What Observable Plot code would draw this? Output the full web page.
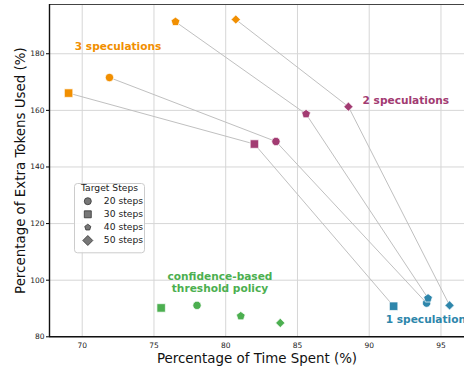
<!DOCTYPE html>
<html><head><meta charset="utf-8">
<script src="https://cdn.jsdelivr.net/npm/d3@7"></script>
<script src="https://cdn.jsdelivr.net/npm/@observablehq/plot@0.6"></script>
<style>body{margin:0;background:#fff;} svg{font-family:"DejaVu Sans",sans-serif;}</style>
</head><body><div id="chart"></div>
<script>
// ---- data ----
const steps = [20, 30, 40, 50];
const stepLabels = ["20 steps", "30 steps", "40 steps", "50 steps"];
const seriesNames = ["3 speculations", "2 speculations", "1 speculation", "confidence-based\nthreshold policy"];
const seriesColors = ["#F18F01", "#A23B72", "#2E86AB", "#4CAF50"];
const spec3Time = [71.9, 69.05, 76.5, 80.7];
const spec3Tokens = [171.6, 166.1, 191.3, 192.1];
const spec2Time = [83.5, 82.0, 85.6, 88.55];
const spec2Tokens = [149.0, 148.1, 158.7, 161.3];
const spec1Time = [94.0, 91.7, 94.1, 95.6];
const spec1Tokens = [91.9, 90.8, 93.6, 91.1];
const confTime = [78.0, 75.5, 81.05, 83.8];
const confTokens = [91.1, 90.2, 87.3, 84.9];
// annotation anchors (data space)
const labelTime = [72.5, 92.55, 91.15, 79.6];
const labelTokens = [182.6, 163.4, 86.0, 99.2];
const xTicks = [70, 75, 80, 85, 90, 95];
const yTicks = [80, 100, 120, 140, 160, 180];
const xDomain = [67.72, 96.64];
const yDomain = [80, 197.4];
const xLabel = "Percentage of Time Spent (%)";
const yLabel = "Percentage of Extra Tokens Used (%)";
const legendTitle = "Target Steps";

// ---- build rows ----
const seriesTime = [spec3Time, spec2Time, spec1Time, confTime];
const seriesTokens = [spec3Tokens, spec2Tokens, spec1Tokens, confTokens];
const seriesLinked = [true, true, true, false];
const points = seriesNames.flatMap((name, si) => steps.map((st, i) => ({
  series: name, color: seriesColors[si], step: st, stepIndex: i,
  time: seriesTime[si][i], tokens: seriesTokens[si][i], linked: seriesLinked[si]
})));
const labels = seriesNames.map((name, si) => ({text: name, color: seriesColors[si], time: labelTime[si], tokens: labelTokens[si], si}));

// ---- symbols ----
function makeSymbol(kind) {
  return {draw(ctx, size) {
    const r = Math.sqrt(size / Math.PI);
    if (kind === "circle") { const c = r * 0.9; ctx.moveTo(c, 0); ctx.arc(0, 0, c, 0, 2 * Math.PI); }
    else if (kind === "square") { const s = r * 0.92; ctx.rect(-s, -s, 2 * s, 2 * s); }
    else if (kind === "pentagon") {
      const R = r * 1.0;
      for (let k = 0; k < 5; k++) {
        const a = -Math.PI / 2 + k * 2 * Math.PI / 5;
        const px = R * Math.cos(a), py = R * Math.sin(a);
        if (k === 0) ctx.moveTo(px, py); else ctx.lineTo(px, py);
      }
      ctx.closePath();
    } else {
      const h = r * 1.0;
      ctx.moveTo(0, -h); ctx.lineTo(h, 0); ctx.lineTo(0, h); ctx.lineTo(-h, 0); ctx.closePath();
    }
  }};
}
const symbols = ["circle", "square", "pentagon", "diamond"].map(makeSymbol);
const legendR = [3.9, 3.8, 3.2, 5.0];

const marks = [
  Plot.gridX(xTicks, {stroke: "#d6d6d6", strokeOpacity: 1, strokeWidth: 1}),
  Plot.gridY(yTicks, {stroke: "#d6d6d6", strokeOpacity: 1, strokeWidth: 1}),
  Plot.line(points.filter(d => d.linked), {x: "time", y: "tokens", z: "step", stroke: "#c0c0c0", strokeWidth: 1}),
  ...steps.map((st, i) => Plot.dot(points.filter(d => d.stepIndex === i), {
    x: "time", y: "tokens", fill: "color", symbol: symbols[i], r: 4.6, stroke: "white", strokeWidth: 0.7
  })),
  Plot.text(labels.filter(d => d.si !== 2), {x: "time", y: "tokens", text: "text", fill: "color",
    fontWeight: "bold", fontSize: 10.6, lineHeight: 1.08, textAnchor: "middle", lineAnchor: "middle"}),
  Plot.text(labels.filter(d => d.si === 2), {x: "time", y: "tokens", text: "text", fill: "color",
    fontWeight: "bold", fontSize: 10.6, textAnchor: "start", lineAnchor: "middle"}),
  Plot.ruleY([yDomain[1]], {stroke: "#444", strokeWidth: 1.2}),
  Plot.ruleX([xDomain[0]], {stroke: "#111", strokeWidth: 1.4}),
  Plot.ruleY([yDomain[0]], {stroke: "#111", strokeWidth: 1.4}),
  Plot.axisX(xTicks, {tickSize: 0, tickPadding: 6, fontSize: 7.5, label: null, fill: "#222"}),
  Plot.axisY(yTicks, {tickSize: 3, tickPadding: 2, fontSize: 7.5, label: null, fill: "#222"}),
  Plot.text([yLabel], {text: d => d, frameAnchor: "left", rotate: -90, dx: -29, fontSize: 13.4,
    textAnchor: "middle", lineAnchor: "middle", fill: "#111"}),
  Plot.text([xLabel], {text: d => d, frameAnchor: "bottom", dy: 22, fontSize: 13.4,
    textAnchor: "middle", lineAnchor: "middle", fill: "#111"}),
  // legend
  Plot.frame({fill: "white", fillOpacity: 0.85, stroke: "#cccccc", rx: 3,
    insetLeft: 25, insetTop: 179, insetRight: 320, insetBottom: 84}),
  Plot.text([legendTitle], {text: d => d, frameAnchor: "top-left", dx: 60, dy: 183.7, fontSize: 9.2,
    textAnchor: "middle", lineAnchor: "middle", fill: "#222"}),
  ...steps.map((st, i) => Plot.dot([st], {frameAnchor: "top-left", dx: 38.3, dy: 196.7 + 13.1 * i,
    symbol: symbols[i], r: legendR[i], fill: "#777", stroke: "#333", strokeWidth: 0.8})),
  ...stepLabels.map((lab, i) => Plot.text([lab], {text: d => d, frameAnchor: "top-left", dx: 54.3,
    dy: 196.7 + 13.1 * i, fontSize: 9.2, textAnchor: "start", lineAnchor: "middle", fill: "#222"}))
];

const chart = Plot.plot({
  width: 464, height: 370,
  marginLeft: 49, marginRight: 0, marginTop: 4, marginBottom: 33.7,
  style: {fontFamily: "DejaVu Sans", background: "white"},
  x: {domain: xDomain, axis: null},
  y: {domain: yDomain, axis: null},
  color: {type: "identity"},
  marks
});
document.getElementById("chart").appendChild(chart);
</script>
</body></html>
